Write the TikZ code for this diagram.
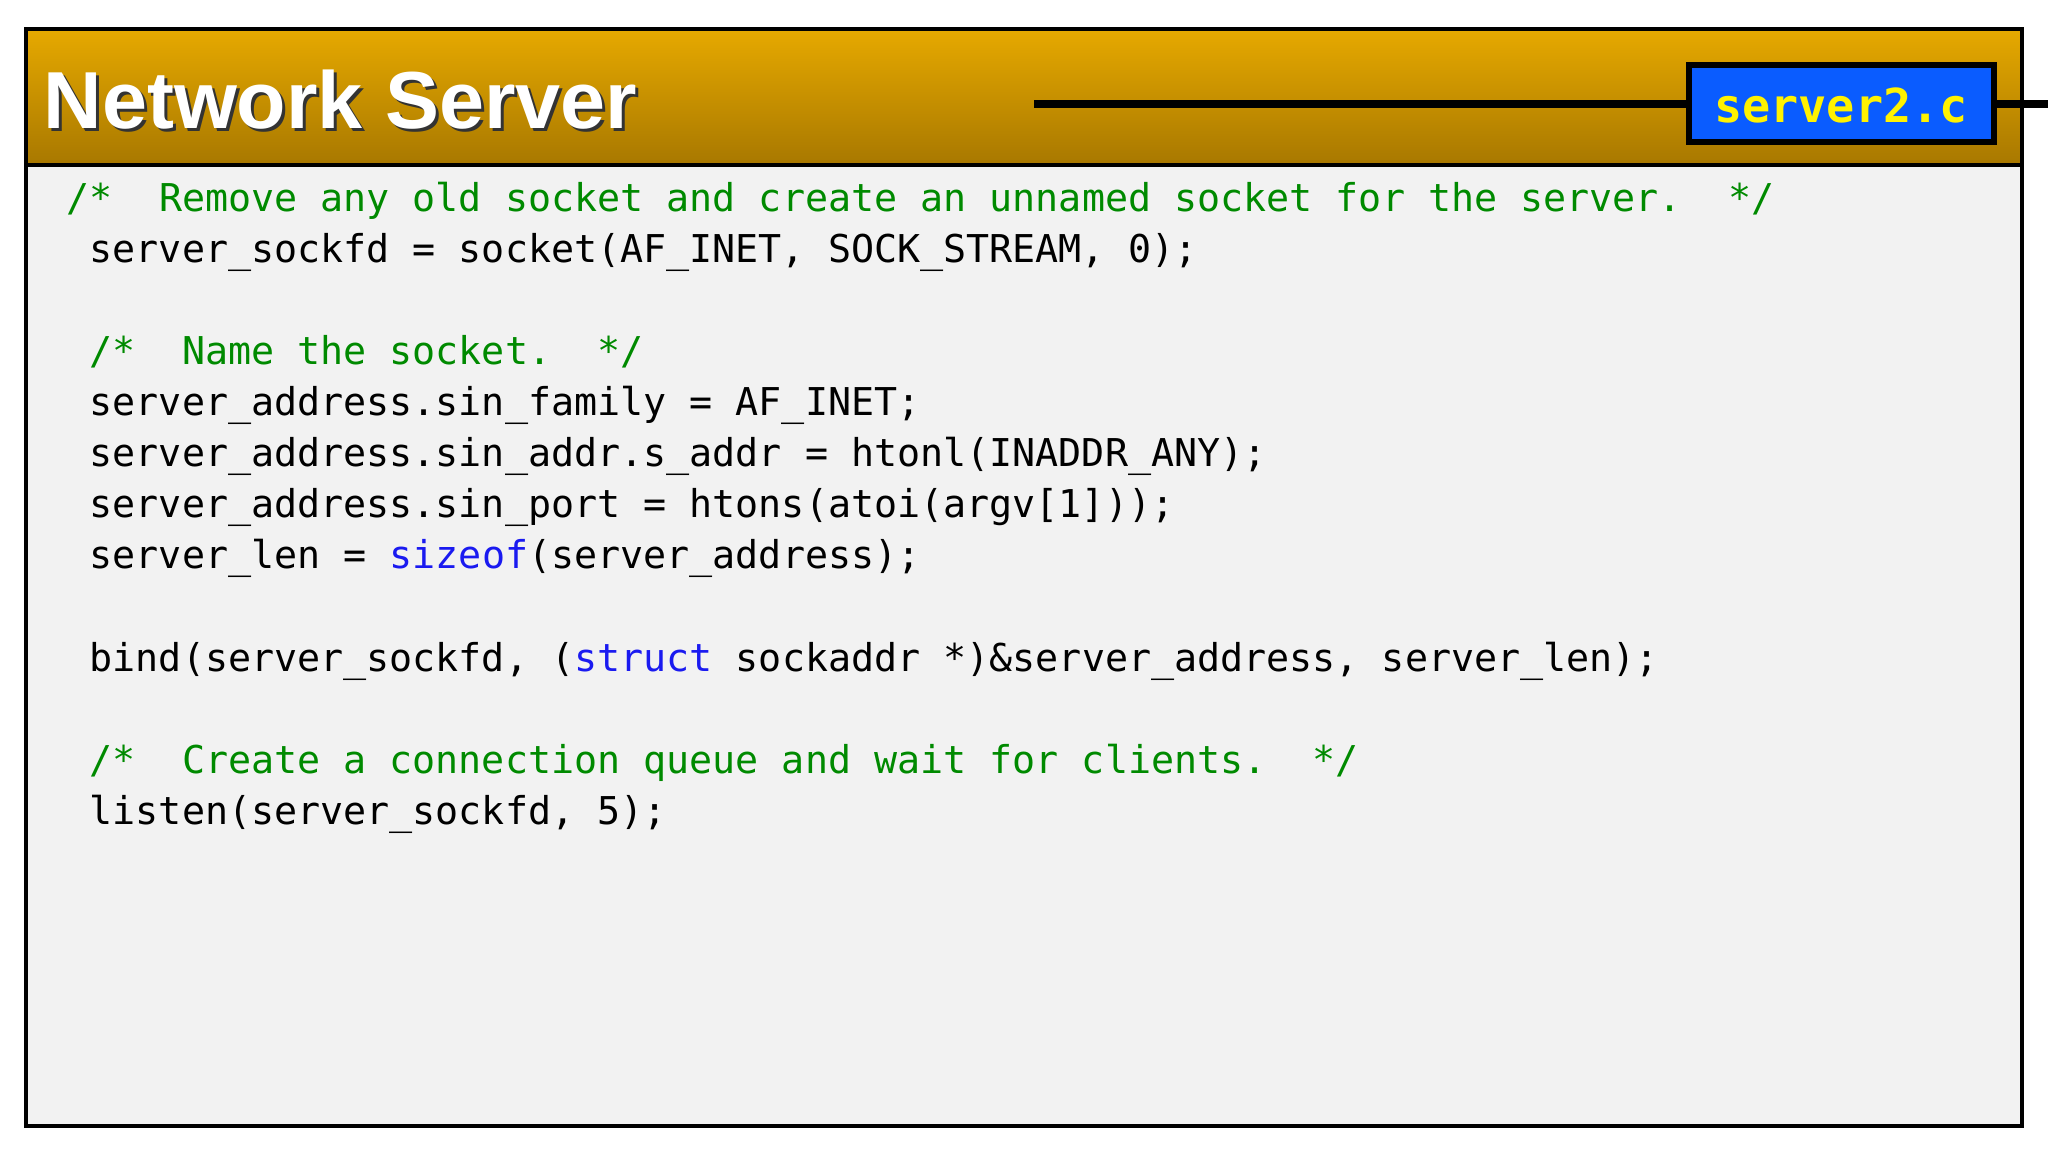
\documentclass[tikz,border=0pt]{standalone}
\usepackage{fontspec}
\newfontfamily\codefont{DejaVu Sans Mono}
\newfontfamily\titlefont{Liberation Sans}
\definecolor{cmtgreen}{HTML}{008A00}
\definecolor{kwblue}{HTML}{1A1AF0}
\definecolor{headtop}{HTML}{E6A900}
\definecolor{headbot}{HTML}{A87800}
\definecolor{badgeblue}{HTML}{0A5CFF}
\definecolor{panelgray}{HTML}{F2F2F2}
\newcommand{\us}{\textunderscore}

\begin{document}
\begin{tikzpicture}[x=0.01cm,y=-0.01cm,
		code/.style={anchor=base west,inner sep=0pt,font=\codefont\fontsize{10.9}{13}\selectfont},
		cmt/.style={code,text=cmtgreen}]
		\useasboundingbox (0,0) rectangle (2048,1152);
		\fill[white] (0,0) rectangle (2048,1152);
		% panel and header
		\fill[panelgray] (26,165) rectangle (2022,1126);
		\shade[top color=headtop,bottom color=headbot] (26,29) rectangle (2022,165);
		\draw[line width=1.2pt] (26,29) rectangle (2022,1126);
		\draw[line width=1.2pt] (26,165) -- (2022,165);
		\node[anchor=base west,inner sep=0pt,text=black!80,font=\titlefont\bfseries\fontsize{23}{26}\selectfont] at (46,132) {Network Server};
		\node[anchor=base west,inner sep=0pt,text=white,font=\titlefont\bfseries\fontsize{23}{26}\selectfont] (title) at (43,129) {Network Server};
		\node[draw=black,line width=1.5pt,fill=badgeblue,minimum width=305\pgflinewidth,inner sep=0pt] (badge) at (1841,104) {};
		\draw[line width=1.5pt,fill=badgeblue] (1689,65) rectangle (1994,142);
		\node[text=yellow,font=\codefont\bfseries\fontsize{13.3}{15}\selectfont] (file) at (1841,105) {server2.c};
		% code lines
		\node[cmt] (l1) at (66,212) {/*\ \ Remove any old socket and create an unnamed socket for the server.\ \ */};
		\node[code] (l2) at (89,263) {server\us sockfd = socket(AF\us INET, SOCK\us STREAM, 0);};
		\node[cmt] (l4) at (89,365) {/*\ \ Name the socket.\ \ */};
		\node[code] (l5) at (89,416) {server\us address.sin\us family = AF\us INET;};
		\node[code] (l6) at (89,467) {server\us address.sin\us addr.s\us addr = htonl(INADDR\us ANY);};
		\node[code] (l7) at (89,518) {server\us address.sin\us port = htons(atoi(argv[1]));};
		\node[code] (l8) at (89,569) {server\us len = \textcolor{kwblue}{sizeof}(server\us address);};
		\node[code] (l10) at (89,671) {bind(server\us sockfd, (\textcolor{kwblue}{struct} sockaddr *)\&server\us address, server\us len);};
		\node[cmt] (l12) at (89,773) {/*\ \ Create a connection queue and wait for clients.\ \ */};
		\node[code] (l13) at (89,824) {listen(server\us sockfd, 5);};
\end{tikzpicture}
\end{document}
